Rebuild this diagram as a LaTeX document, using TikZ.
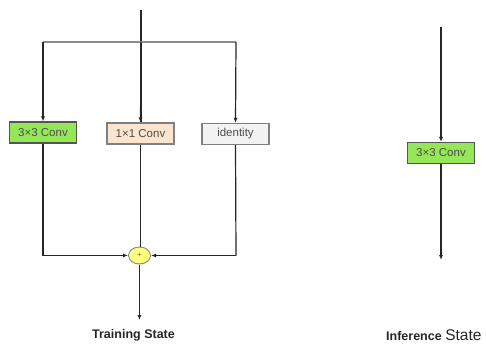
\documentclass[tikz,border=0pt]{standalone}
\usepackage{fontspec}
\setmainfont{Liberation Sans}
\usetikzlibrary{arrows.meta,shapes.geometric}
\definecolor{cgreen}{HTML}{96E65A}
\definecolor{cpeach}{HTML}{FCE4CF}
\definecolor{cgrey}{HTML}{F2F2F2}
\definecolor{cyell}{HTML}{FFFF80}
\definecolor{bord}{HTML}{555555}
\begin{document}
\begin{tikzpicture}[x=1pt,y=-1pt,
  boxst/.style={draw=bord,line width=1.1pt,minimum width=67pt,minimum height=21pt,inner sep=0pt,font=\fontsize{11.5}{12}\selectfont,text=black!70},
  ln/.style={draw=black!85,line width=1.2pt},
  arr/.style={ln,-{Latex[length=5pt,width=4pt]}},
  lbl/.style={font=\bfseries\fontsize{12.5}{14}\selectfont,text=black!85}]
\useasboundingbox (0,0) rectangle (486,345);
\fill[white] (0,0) rectangle (486,345);
% training
\coordinate (top) at (141,10);
\coordinate (hm) at (141,42);
\coordinate (hl) at (43,42);
\coordinate (hr) at (236,42);
\node[boxst,fill=cgreen] (c3) at (43,132.5) {3×3 Conv};
\node[boxst,fill=cpeach,draw=black!50] (c1) at (140.5,133.5) {1×1 Conv};
\node[boxst,fill=cgrey,draw=black!50] (id) at (235.5,134) {identity};
\node[draw=black!45,line width=1pt,fill=cyell,ellipse,minimum width=22pt,minimum height=17pt,inner sep=0pt,font=\fontsize{8}{8}\selectfont,text=black!60] (sum) at (139.5,255.5) {+};
\coordinate (bl) at (43,255.5);
\coordinate (br) at (236,255.5);
\coordinate (out) at (139.5,320);
\draw[ln] (top) -- (c1.north -| top);
\draw[draw=black!45,line width=1.3pt] (hl) -- (hr);
\draw[arr] (hl) -- (c3.north);
\draw[arr] (hr) -- (id.north);
\draw[arr] (hm) -- (c1.north);
\draw[ln] (c3.south) -- (bl);
\draw[arr] (bl) -- (sum.west);
\draw[ln] (id.south) -- (br);
\draw[arr] (br) -- (sum.east);
\draw[ln] (c1.south) -- (c1.south |- sum.north);
\draw[arr] (sum.south) -- (out);
\node[lbl] (tl) at (133.5,335) {Training State};
% inference
\coordinate (itop) at (441,27);
\node[boxst,fill=cgreen] (ic3) at (441,153) {3×3 Conv};
\coordinate (iout) at (441,260);
\draw[arr] (itop) -- (ic3.north);
\draw[arr] (ic3.south) -- (iout);
\node[text=black!85,anchor=base west,inner sep=0pt] (il) at (386,340) {\bfseries\fontsize{12.5}{14}\selectfont Inference \mdseries\fontsize{15.5}{14}\selectfont State};
\end{tikzpicture}
\end{document}
